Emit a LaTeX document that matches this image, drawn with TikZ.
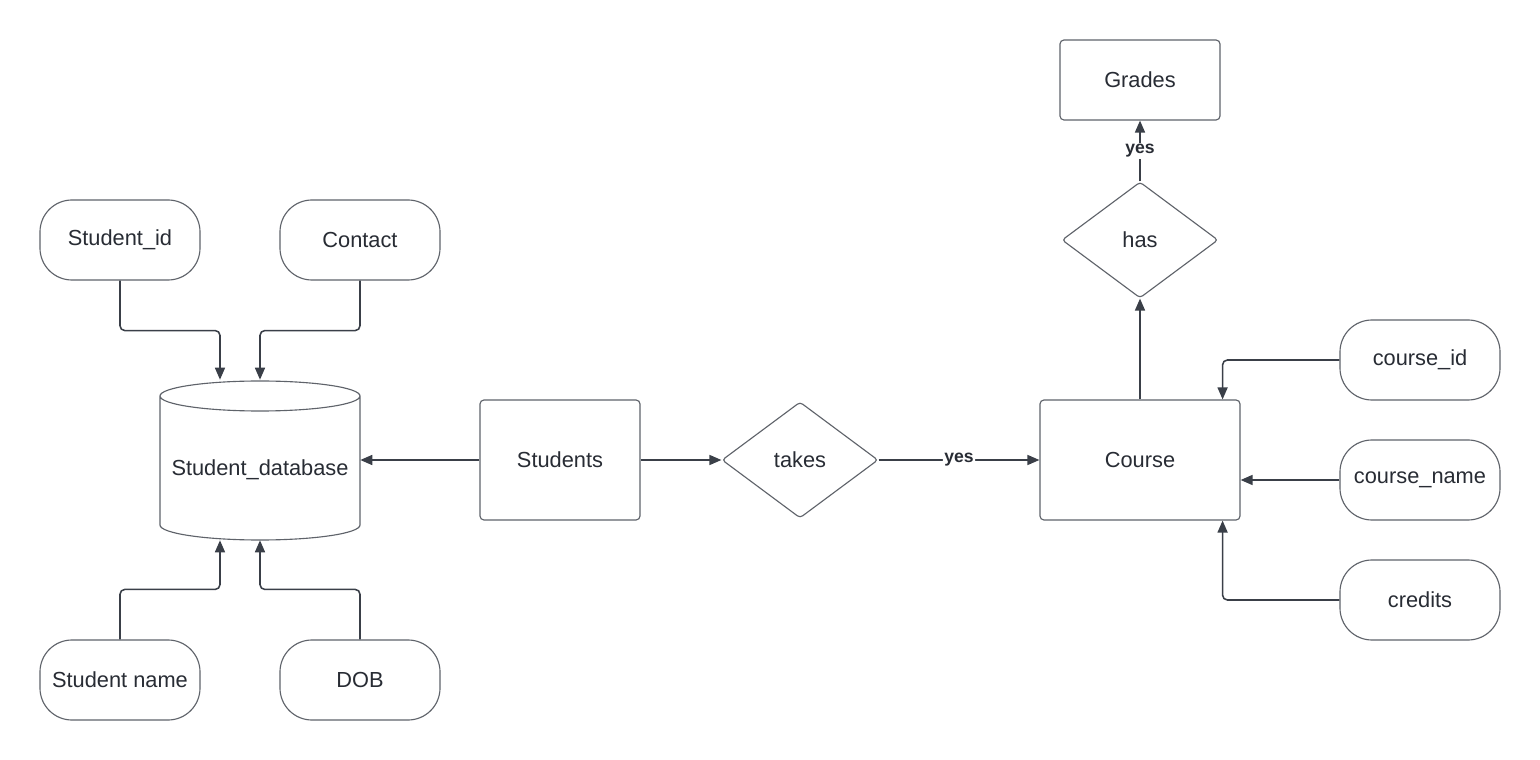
\documentclass[tikz,border=0pt]{standalone}
\usepackage{fontspec}
\setmainfont{Liberation Sans}
\usepackage{xcolor}
\usepackage{tikz}
\usetikzlibrary{shapes.geometric}
\usetikzlibrary{arrows.meta}

\definecolor{inkline}{RGB}{58,63,72}
\definecolor{inkbox}{RGB}{95,99,106}
\definecolor{inktext}{RGB}{40,44,52}

\tikzset{
  base/.style={draw=inkbox, line width=0.8pt, text=inktext, inner sep=0pt,
    font=\fontsize{15.5}{18}\selectfont},
  entity/.style={base, rounded corners=0.1cm, minimum width=4cm, minimum height=3cm},
  attrib/.style={base, rounded corners=0.8cm, minimum width=4cm, minimum height=2cm},
  relation/.style={base, diamond, aspect=1.34, rounded corners=0.08cm,
    minimum width=3.9cm, minimum height=2.9cm},
  link/.style={draw=inkline, line width=1.1pt, rounded corners=0.12cm,
    -{Triangle[length=0.3cm, width=0.25cm]}},
  yeslabel/.style={fill=white, inner sep=1pt, text=inktext,
    font=\bfseries\fontsize{12.5}{14}\selectfont}
}

\begin{document}
\begin{tikzpicture}[x=0.025cm, y=-0.025cm]
  \useasboundingbox[fill=white] (0, 0) rectangle (1540, 760);

  % Student database drum
  \node[minimum width=5cm, minimum height=4cm, inner sep=0pt] (db) at (260, 460) {};
  \draw[draw=inkbox, line width=0.8pt]
    (160, 396) -- (160, 525) arc[start angle=180, end angle=360, x radius=100, y radius=-15]
    -- (360, 396) arc[start angle=0, end angle=360, x radius=100, y radius=-15];
  \node[base, draw=none] (dbname) at (260, 470) {Student\_database};

  % Student side
  \node[attrib] (sid) at (120, 240) {Student\_id};
  \node[attrib] (contact) at (360, 240) {Contact};
  \node[attrib] (sname) at (120, 680) {Student name};
  \node[attrib] (dob) at (360, 680) {DOB};
  \node[entity] (students) at (560, 460) {Students};

  % Relations
  \node[relation] (takes) at (800, 460) {takes};
  \node[relation] (has) at (1140, 240) {has};

  % Course side
  \node[entity, minimum width=5cm] (course) at (1140, 460) {Course};
  \node[entity, minimum height=2cm] (grades) at (1140, 80) {Grades};
  \node[attrib] (cid) at (1420, 360) {course\_id};
  \node[attrib] (cname) at (1420, 480) {course\_name};
  \node[attrib] (credits) at (1420, 600) {credits};

  % Attribute links into the database
  \draw[link] (sid.south) -- ++(0, 50) -| ([xshift=-1cm]db.north);
  \draw[link] (contact.south) -- ++(0, 50) -| (db.north);
  \draw[link] (sname.north) -- ++(0, -50) -| ([xshift=-1cm]db.south);
  \draw[link] (dob.north) -- ++(0, -50) -| (db.south);
  \draw[link] (students.west) -- (db.east);

  % Relationship links
  \draw[link] (students.east) -- (takes.west);
  \draw[link] (takes.east) -- node[yeslabel] {yes} (course.west);
  \draw[link] (course.north) -- (has.south);
  \draw[link] (has.north) -- node[yeslabel] {yes} (grades.south);

  % Attribute links into the course
  \draw[link] (cid.west) -| ([xshift=-0.45cm]course.north east);
  \draw[link] (cname.west) -- (cname.west -| course.east);
  \draw[link] (credits.west) -| ([xshift=-0.45cm]course.south east);
\end{tikzpicture}
\end{document}
